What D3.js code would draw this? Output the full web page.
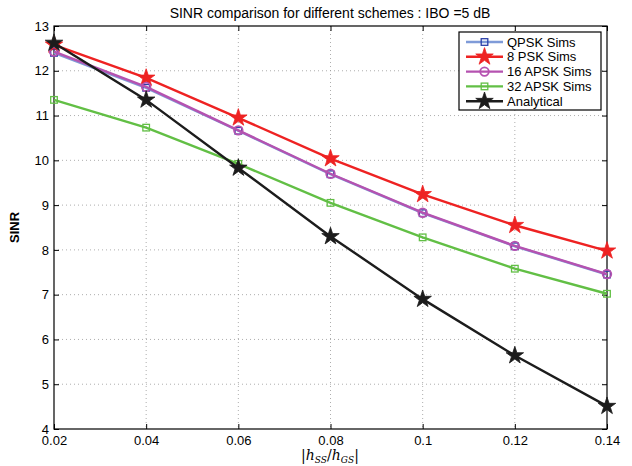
<!DOCTYPE html>
<html>
<head>
<meta charset="utf-8">
<script src="https://cdn.jsdelivr.net/npm/d3@7"></script>
<style>
  body { margin: 0; background: #fff; }
  text { font-family: "Liberation Sans", Arial, sans-serif; }
</style>
</head>
<body>
<svg id="chart" width="632" height="466"></svg>
<script>
var xValues = [0.02, 0.04, 0.06, 0.08, 0.1, 0.12, 0.14];
var qpsk = [12.40, 11.62, 10.66, 9.69, 8.82, 8.08, 7.45];
var psk8 = [12.58, 11.84, 10.95, 10.04, 9.24, 8.55, 7.98];
var apsk16 = [12.43, 11.64, 10.67, 9.70, 8.83, 8.09, 7.46];
var apsk32 = [11.35, 10.73, 9.92, 9.05, 8.28, 7.58, 7.02];
var analytical = [12.62, 11.35, 9.83, 8.30, 6.90, 5.64, 4.51];
var xTicks = [0.02, 0.04, 0.06, 0.08, 0.1, 0.12, 0.14];
var yTicks = [4, 5, 6, 7, 8, 9, 10, 11, 12, 13];

var series = [
    {name: 'QPSK Sims', values: qpsk, line: '#7f9bd8', mark: '#2a3fa8', marker: 'square'},
    {name: '8 PSK Sims', values: psk8, line: '#ee2222', mark: '#ee2222', marker: 'star'},
    {name: '16 APSK Sims', values: apsk16, line: '#b552b0', mark: '#b552b0', marker: 'circle'},
    {name: '32 APSK Sims', values: apsk32, line: '#62bf45', mark: '#62bf45', marker: 'square'},
    {name: 'Analytical', values: analytical, line: '#1c1c1c', mark: '#1c1c1c', marker: 'star'}
];

var svg = d3.select('#chart');
var plotLeft = 54, plotRight = 607, plotTop = 26, plotBottom = 429;

var x = d3.scaleLinear().domain([0.02, 0.14]).range([plotLeft, plotRight]);
var y = d3.scaleLinear().domain([4, 13]).range([plotBottom, plotTop]);

// grid
var grid = svg.append('g').attr('stroke', '#999').attr('stroke-width', 0.8)
    .attr('stroke-dasharray', '1,3');
grid.selectAll('.gx').data(xTicks.slice(1, -1)).enter().append('line')
    .attr('x1', function(d){ return x(d); }).attr('x2', function(d){ return x(d); })
    .attr('y1', plotTop).attr('y2', plotBottom);
grid.selectAll('.gy').data(yTicks.slice(1, -1)).enter().append('line')
    .attr('y1', function(d){ return y(d); }).attr('y2', function(d){ return y(d); })
    .attr('x1', plotLeft).attr('x2', plotRight);

// axes, ticks inward on all four sides
var tickLen = 5;
var xAxis = d3.axisBottom(x).tickValues(xTicks).tickSize(-tickLen).tickPadding(7)
    .tickFormat(function(d){ return String(+d.toFixed(2)); });
var yAxis = d3.axisLeft(y).tickValues(yTicks).tickSize(-tickLen).tickPadding(5);

function styleAxis(g){
    g.select('.domain').remove();
    g.selectAll('line').attr('stroke', '#000');
    g.selectAll('text').attr('font-size', 13).attr('fill', '#000')
        .style('font-family', '"Liberation Sans", Arial, sans-serif');
}
svg.append('g').attr('transform', 'translate(0,' + plotBottom + ')').call(xAxis).call(styleAxis);
svg.append('g').attr('transform', 'translate(' + plotLeft + ',0)').call(yAxis).call(styleAxis);
svg.append('g').attr('transform', 'translate(0,' + plotTop + ')')
    .call(d3.axisTop(x).tickValues(xTicks).tickSize(-tickLen).tickFormat(''))
    .call(styleAxis);
svg.append('g').attr('transform', 'translate(' + plotRight + ',0)')
    .call(d3.axisRight(y).tickValues(yTicks).tickSize(-tickLen).tickFormat(''))
    .call(styleAxis);

svg.append('rect').attr('x', plotLeft).attr('y', plotTop)
    .attr('width', plotRight - plotLeft).attr('height', plotBottom - plotTop)
    .attr('fill', 'none').attr('stroke', '#000').attr('stroke-width', 1.2);

// markers
function drawMarker(g, s, cx, cy){
    if(s.marker === 'star'){
        g.append('path').attr('d', d3.symbol().type(d3.symbolStar).size(95)())
            .attr('transform', 'translate(' + cx + ',' + cy + ')')
            .attr('fill', s.mark).attr('stroke', s.mark).attr('stroke-width', 0.8);
    }else if(s.marker === 'circle'){
        g.append('circle').attr('cx', cx).attr('cy', cy).attr('r', 4.3)
            .attr('fill', 'none').attr('stroke', s.mark).attr('stroke-width', 1.8);
    }else{
        g.append('rect').attr('x', cx - 3.3).attr('y', cy - 3.3)
            .attr('width', 6.6).attr('height', 6.6)
            .attr('fill', 'none').attr('stroke', s.mark).attr('stroke-width', 1.3);
    }
}

var line = d3.line()
    .x(function(d, i){ return x(xValues[i]); })
    .y(function(d){ return y(d); });

var plot = svg.append('g');
series.forEach(function(s){
    plot.append('path').datum(s.values).attr('d', line)
        .attr('fill', 'none').attr('stroke', s.line).attr('stroke-width', 2.4);
    s.values.forEach(function(v, i){
        drawMarker(plot, s, x(xValues[i]), y(v));
    });
});

// legend
var lg = svg.append('g');
lg.append('rect').attr('x', 459).attr('y', 32).attr('width', 142).attr('height', 78)
    .attr('fill', '#fff').attr('stroke', '#000').attr('stroke-width', 1.2);
series.forEach(function(s, i){
    var ly = 42 + i * 14.8;
    lg.append('line').attr('x1', 466).attr('x2', 503).attr('y1', ly).attr('y2', ly)
        .attr('stroke', s.line).attr('stroke-width', 2.4);
    drawMarker(lg, s, 484.5, ly);
    lg.append('text').attr('x', 507).attr('y', ly + 4.5).attr('font-size', 13)
        .text(s.name);
});

// title and labels
svg.append('text').attr('x', 330).attr('y', 18).attr('text-anchor', 'middle')
    .attr('font-size', 14).text('SINR comparison for different schemes : IBO =5 dB');

svg.append('text').attr('transform', 'translate(19,' + ((plotTop + plotBottom) / 2) + ') rotate(-90)')
    .attr('text-anchor', 'middle').attr('font-size', 13).attr('font-weight', 'bold')
    .text('SINR');

var xl = svg.append('text').attr('x', 330).attr('y', 460).attr('text-anchor', 'middle')
    .attr('font-size', 14).style('font-family', '"DejaVu Serif", "Liberation Serif", serif');
xl.append('tspan').text('|');
xl.append('tspan').attr('font-style', 'italic').text('h');
xl.append('tspan').attr('font-style', 'italic').attr('font-size', 9).attr('dy', 3).text('SS');
xl.append('tspan').attr('dy', -3).text('/');
xl.append('tspan').attr('font-style', 'italic').text('h');
xl.append('tspan').attr('font-style', 'italic').attr('font-size', 9).attr('dy', 3).text('GS');
xl.append('tspan').attr('dy', -3).text('|');
</script>
</body>
</html>
